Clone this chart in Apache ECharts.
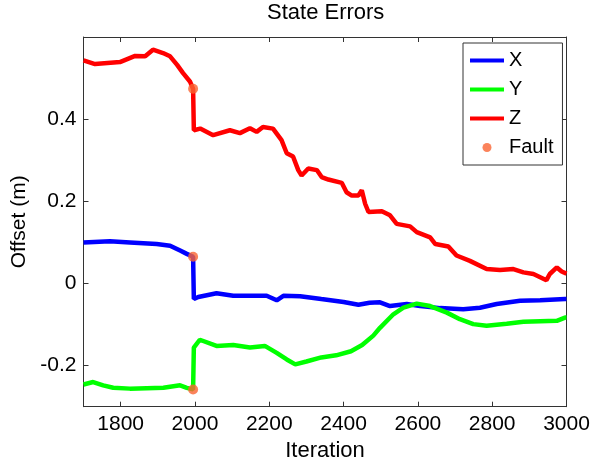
<!DOCTYPE html>
<html>
<head>
<meta charset="utf-8">
<script src="https://cdn.jsdelivr.net/npm/echarts@6/dist/echarts.min.js"></script>
<style>
html,body{margin:0;padding:0;background:#fff;}
#chart{width:593px;height:465px;}
</style>
</head>
<body>
<div id="chart"></div>
<script>
// ---- data ----
const xIter = [1700,1771,1825,1897,1933,1960,1978,1995,1997,2009,2058,2103,2148,2193,2220,2238,2283,2340,2400,2440,2470,2498,2525,2570,2606,2660,2722,2767,2812,2875,2929,2996,3000];
const xVal  = [0.100,0.103,0.100,0.096,0.092,0.080,0.072,0.065,-0.038,-0.033,-0.024,-0.030,-0.030,-0.030,-0.041,-0.030,-0.031,-0.038,-0.045,-0.052,-0.047,-0.046,-0.055,-0.050,-0.055,-0.060,-0.063,-0.059,-0.050,-0.042,-0.041,-0.038,-0.038];

const yIter = [1700,1726,1753,1780,1825,1915,1960,1978,1995,1997,2013,2058,2103,2148,2188,2220,2247,2270,2300,2340,2380,2420,2450,2480,2498,2534,2561,2597,2633,2678,2713,2749,2785,2839,2884,2974,2996,3000];
const yVal  = [-0.246,-0.240,-0.248,-0.254,-0.256,-0.254,-0.248,-0.254,-0.258,-0.156,-0.137,-0.152,-0.150,-0.156,-0.152,-0.169,-0.185,-0.197,-0.190,-0.180,-0.175,-0.165,-0.150,-0.127,-0.108,-0.075,-0.059,-0.049,-0.055,-0.071,-0.087,-0.099,-0.103,-0.098,-0.093,-0.091,-0.083,-0.083];

const zIter = [1700,1731,1798,1839,1866,1887,1914,1933,1952,1968,1987,1995,1997,2014,2049,2094,2121,2148,2166,2183,2210,2233,2247,2264,2278,2287,2305,2328,2341,2359,2395,2408,2422,2440,2449,2458,2467,2503,2525,2543,2579,2597,2633,2647,2682,2704,2740,2785,2821,2857,2884,2911,2946,2955,2974,2987,3000];
const zVal  = [0.543,0.534,0.539,0.554,0.553,0.569,0.561,0.553,0.532,0.512,0.491,0.474,0.373,0.377,0.361,0.373,0.366,0.378,0.369,0.381,0.377,0.349,0.317,0.309,0.276,0.263,0.280,0.276,0.259,0.253,0.245,0.222,0.214,0.214,0.227,0.194,0.174,0.176,0.166,0.145,0.139,0.125,0.112,0.096,0.090,0.068,0.055,0.035,0.033,0.035,0.027,0.023,0.008,0.023,0.039,0.029,0.024];

const faultIter = [1995,1995,1995];
const faultVal  = [0.065,-0.258,0.474];

const xTicks = [1800,2000,2200,2400,2600,2800,3000];
const yTicks = [-0.2,0,0.2,0.4];
const seriesNames = ['X','Y','Z','Fault'];

const pairs = (a,b) => a.map((v,i)=>[v,b[i]]);

const FONT = 'Liberation Sans, Arial, Helvetica, sans-serif';
const AX = '#333';
const lineIcon = 'path://M0,0H34V4H0Z';

const baseX = {
  type:'value', min:1700, max:3000,
  axisLine:{show:true,onZero:false,lineStyle:{color:AX,width:1}},
  splitLine:{show:false}
};
const baseY = {
  type:'value', min:-0.3, max:0.6,
  axisLine:{show:true,onZero:false,lineStyle:{color:AX,width:1}},
  splitLine:{show:false}
};

const chart = echarts.init(document.getElementById('chart'), null, {renderer:'canvas'});
chart.setOption({
  animation:false,
  backgroundColor:'#fff',
  title:{
    text:'State Errors', left:262, top:-3,
    textStyle:{fontFamily:FONT,fontSize:22,fontWeight:'normal',color:'#000'}
  },
  grid:{left:83.5,right:26.5,top:37,bottom:58.3,containLabel:false,outerBoundsMode:'none'},
  legend:{
    orient:'vertical', left:463, top:43,
    padding:[7,9,7,7], itemWidth:34, itemHeight:9, itemGap:8,
    borderColor:'#333', borderWidth:1, backgroundColor:'#fff',
    textStyle:{fontFamily:FONT,fontSize:20,color:'#000',lineHeight:21},
    data:[
      {name:seriesNames[0],icon:lineIcon},
      {name:seriesNames[1],icon:lineIcon},
      {name:seriesNames[2],icon:lineIcon},
      {name:seriesNames[3],icon:'circle'}
    ]
  },
  xAxis:[
    Object.assign({}, baseX, {
      position:'bottom',
      name:'Iteration', nameLocation:'middle', nameGap:32,
      nameTextStyle:{fontFamily:FONT,fontSize:22,color:'#000'},
      axisTick:{show:true,inside:true,length:5,lineStyle:{color:AX},customValues:xTicks},
      axisLabel:{show:true,margin:7,fontFamily:FONT,fontSize:21,color:'#000',customValues:xTicks,
        formatter:v=>String(Math.round(v))}
    }),
    Object.assign({}, baseX, {
      position:'top',
      axisTick:{show:true,inside:true,length:5,lineStyle:{color:AX},customValues:xTicks},
      axisLabel:{show:false}
    })
  ],
  yAxis:[
    Object.assign({}, baseY, {
      position:'left',
      name:'Offset (m)', nameLocation:'middle', nameGap:54,
      nameTextStyle:{fontFamily:FONT,fontSize:21,color:'#000'},
      axisTick:{show:true,inside:true,length:5,lineStyle:{color:AX},customValues:yTicks},
      axisLabel:{show:true,margin:7,fontFamily:FONT,fontSize:21,color:'#000',customValues:yTicks,
        formatter:v=>(Math.round(v*10)/10).toString()}
    }),
    Object.assign({}, baseY, {
      position:'right',
      axisTick:{show:true,inside:true,length:5,lineStyle:{color:AX},customValues:yTicks},
      axisLabel:{show:false}
    })
  ],
  series:[
    {name:seriesNames[0],type:'line',data:pairs(xIter,xVal),symbol:'none',color:'#0000ff',
     lineStyle:{width:4.5,color:'#0000ff'},z:2},
    {name:seriesNames[1],type:'line',data:pairs(yIter,yVal),symbol:'none',color:'#00ff00',
     lineStyle:{width:4.5,color:'#00ff00'},z:3},
    {name:seriesNames[2],type:'line',data:pairs(zIter,zVal),symbol:'none',color:'#ff0000',
     lineStyle:{width:4.5,color:'#ff0000'},z:4},
    {name:seriesNames[3],type:'scatter',data:pairs(faultIter,faultVal),symbol:'circle',symbolSize:10,
     color:'#fa6432',itemStyle:{color:'#fa6432'},z:5}
  ]
});
</script>
</body>
</html>
